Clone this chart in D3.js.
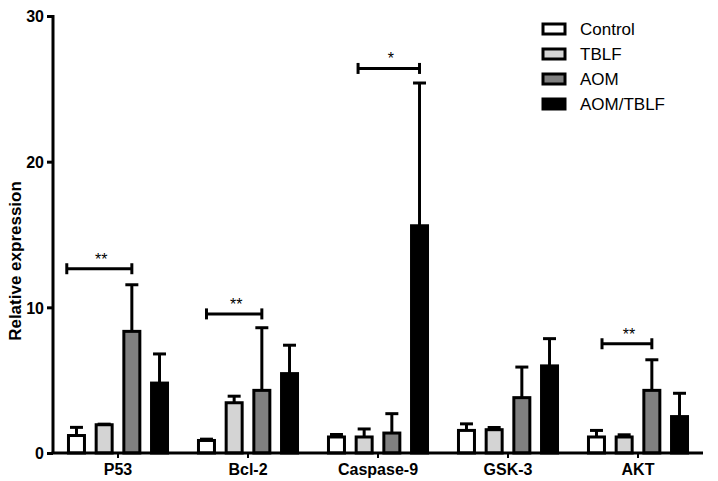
<!DOCTYPE html>
<html>
<head>
<meta charset="utf-8">
<script src="https://cdn.jsdelivr.net/npm/d3@7"></script>
<style>
  body { margin: 0; background: #fff; }
  text { font-family: "Liberation Sans", Arial, sans-serif; }
</style>
</head>
<body>
<svg id="chart" width="718" height="481"></svg>
<script>
// chart values
var categories = ["P53", "Bcl-2", "Caspase-9", "GSK-3", "AKT"];
var groups = ["Control", "TBLF", "AOM", "AOM/TBLF"];
var groupColors = ["#ffffff", "#d4d4d4", "#808080", "#000000"];

var meanControl  = [1.2, 0.86, 1.1, 1.55, 1.1];
var meanTBLF     = [1.94, 3.45, 1.1, 1.6, 1.1];
var meanAOM      = [8.35, 4.3, 1.37, 3.8, 4.3];
var meanAOMTBLF  = [4.8, 5.45, 15.6, 5.98, 2.5];

var sdControl  = [0.56, 0.09, 0.17, 0.45, 0.45];
var sdTBLF     = [0.04, 0.45, 0.55, 0.15, 0.15];
var sdAOM      = [3.2, 4.3, 1.33, 2.1, 2.1];
var sdAOMTBLF  = [2.0, 1.95, 9.8, 1.87, 1.6];

var yTicks = [0, 10, 20, 30];

// significance brackets: positions given as group index inside the category
var brackets = [
    { cat: "P53",       from: -0.35, to: 2, y: 12.65, label: "**" },
    { cat: "Bcl-2",     from: 0,     to: 2, y: 9.55,  label: "**" },
    { cat: "Caspase-9", from: 0.78,  to: 3, y: 26.4,  label: "*" },
    { cat: "AKT",       from: 0.2,   to: 2, y: 7.5,   label: "**" }
];

var means = [meanControl, meanTBLF, meanAOM, meanAOMTBLF];
var sds = [sdControl, sdTBLF, sdAOM, sdAOMTBLF];

var rows = [];
categories.forEach(function (c, ci) {
    groups.forEach(function (g, gi) {
        rows.push({ cat: c, group: g, gi: gi, mean: means[gi][ci], sd: sds[gi][ci] });
    });
});

var svg = d3.select("#chart");
var axisLeftX = 53, axisRightX = 703;

var y = d3.scaleLinear().domain([0, 30]).range([453, 16]);
var x0 = d3.scaleBand().domain(categories).range([axisLeftX, axisRightX])
    .paddingInner(0.215).paddingOuter(0.1075);
var x1 = d3.scaleBand().domain(groups).range([0, x0.bandwidth()])
    .paddingInner(0.314).paddingOuter(0);

function groupX(cat, idx) {
    return x0(cat) + x1.step() * idx + x1.bandwidth() / 2;
}

var sw = 3;

// bars
svg.append("g")
    .selectAll("rect.bar")
    .data(rows)
    .enter().append("rect")
    .attr("class", "bar")
    .attr("x", function (d) { return x0(d.cat) + x1(d.group) + sw / 2; })
    .attr("width", x1.bandwidth() - sw)
    .attr("y", function (d) { return y(d.mean); })
    .attr("height", function (d) { return y(0) - y(d.mean); })
    .attr("fill", function (d) { return groupColors[d.gi]; })
    .attr("stroke", "#000")
    .attr("stroke-width", sw);

// error bars (upper only)
var err = svg.append("g").attr("stroke", "#000").attr("stroke-width", sw);
err.selectAll("line.stem")
    .data(rows)
    .enter().append("line")
    .attr("class", "stem")
    .attr("x1", function (d) { return groupX(d.cat, d.gi); })
    .attr("x2", function (d) { return groupX(d.cat, d.gi); })
    .attr("y1", function (d) { return y(d.mean); })
    .attr("y2", function (d) { return y(d.mean + d.sd); });
err.selectAll("line.cap")
    .data(rows)
    .enter().append("line")
    .attr("class", "cap")
    .attr("x1", function (d) { return groupX(d.cat, d.gi) - 6.5; })
    .attr("x2", function (d) { return groupX(d.cat, d.gi) + 6.5; })
    .attr("y1", function (d) { return y(d.mean + d.sd); })
    .attr("y2", function (d) { return y(d.mean + d.sd); });

// axes
var yAxis = svg.append("g")
    .attr("transform", "translate(" + axisLeftX + ",0)")
    .call(d3.axisLeft(y).tickValues(yTicks).tickSize(6).tickPadding(3).tickSizeOuter(0));
yAxis.select(".domain").attr("stroke-width", sw).attr("d", "M0," + (y(30) - 1) + "V" + y(0));
yAxis.selectAll(".tick line").attr("stroke-width", sw);
yAxis.selectAll(".tick text")
    .style("font-size", "16px").style("font-weight", "bold").attr("fill", "#000")
    .attr("dy", "0.36em");

var xAxis = svg.append("g")
    .attr("transform", "translate(0," + y(0) + ")")
    .call(d3.axisBottom(x0).tickSize(5).tickPadding(5).tickSizeOuter(0));
xAxis.select(".domain").attr("stroke-width", sw).attr("d", "M" + (axisLeftX - 1.5) + ",0H" + axisRightX);
xAxis.selectAll(".tick line").attr("stroke-width", 2);
xAxis.selectAll(".tick text")
    .style("font-size", "16px").style("font-weight", "bold").attr("fill", "#000")
    .attr("dy", "0.72em");

// y axis title
svg.append("text")
    .attr("transform", "translate(21," + 261 + ") rotate(-90)")
    .attr("text-anchor", "middle")
    .style("font-size", "17px").style("font-weight", "bold")
    .text("Relative expression");

// significance brackets
var br = svg.append("g");
brackets.forEach(function (b) {
    var xa = groupX(b.cat, b.from), xb = groupX(b.cat, b.to), yy = y(b.y);
    br.append("line").attr("x1", xa).attr("x2", xb).attr("y1", yy).attr("y2", yy)
        .attr("stroke", "#000").attr("stroke-width", sw);
    [xa, xb].forEach(function (xx) {
        br.append("line").attr("x1", xx).attr("x2", xx).attr("y1", yy - 5.5).attr("y2", yy + 5.5)
            .attr("stroke", "#000").attr("stroke-width", sw);
    });
    br.append("text")
        .attr("x", (xa + xb) / 2 + 2)
        .attr("y", yy - 4)
        .attr("text-anchor", "middle")
        .style("font-size", "16px")
        .text(b.label);
});

// legend
var legend = svg.append("g").attr("transform", "translate(543,24)");
var items = legend.selectAll("g.item")
    .data(groups)
    .enter().append("g")
    .attr("class", "item")
    .attr("transform", function (d, i) { return "translate(0," + (i * 25) + ")"; });
items.append("rect")
    .attr("width", 22).attr("height", 10)
    .attr("fill", function (d, i) { return groupColors[i]; })
    .attr("stroke", "#000").attr("stroke-width", sw);
items.append("text")
    .attr("x", 37).attr("y", 5)
    .attr("dy", "0.36em")
    .style("font-size", "17px")
    .text(function (d) { return d; });
</script>
</body>
</html>
